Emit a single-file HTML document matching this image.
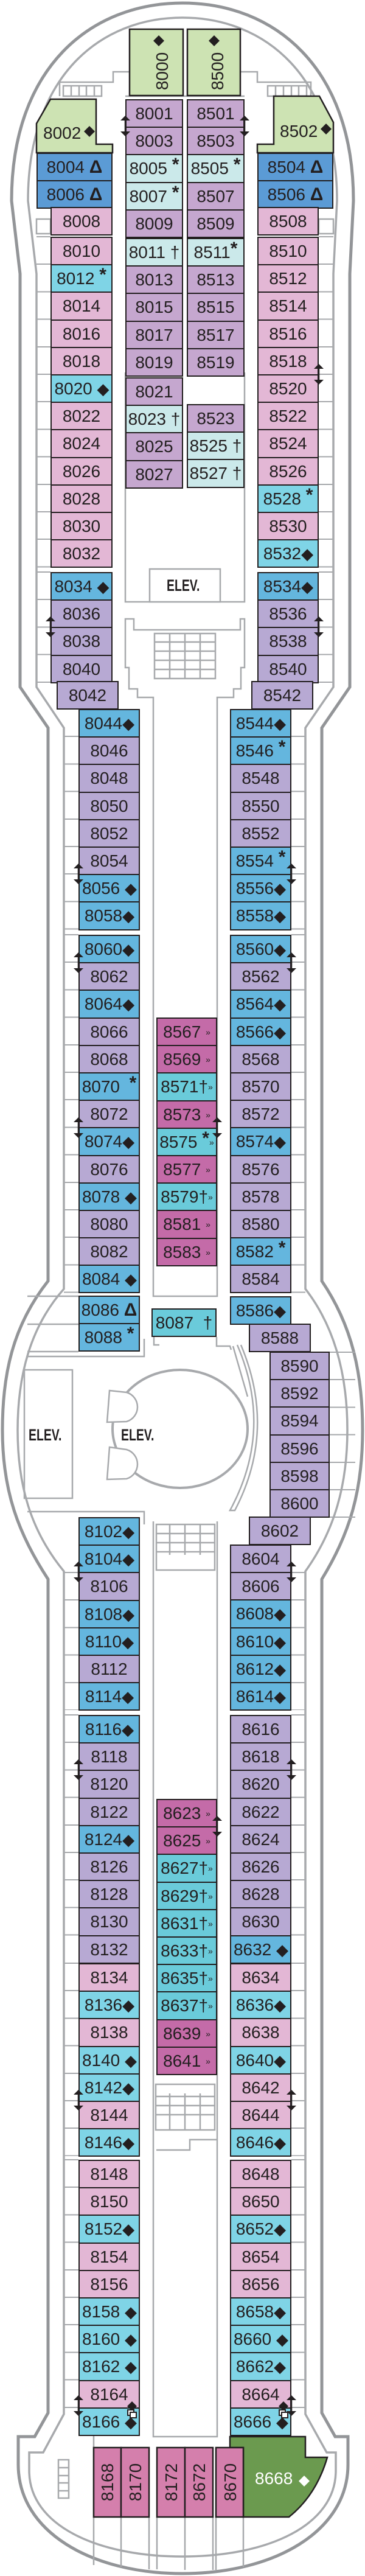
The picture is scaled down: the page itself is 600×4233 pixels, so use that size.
<!DOCTYPE html>
<html><head><meta charset="utf-8"><style>
body{margin:0;width:600px;height:4233px;position:relative;background:#fff;overflow:hidden;font-family:"Liberation Sans",sans-serif;color:#231f20}
svg{position:absolute;left:0;top:0}
.k{position:absolute;z-index:2}
.k div{height:47.2px;margin-bottom:-2px;border:2px solid #231f20;box-sizing:border-box;text-align:center;line-height:43px;font-size:28px;white-space:nowrap}
.k div b{font-family:"DejaVu Sans",sans-serif;font-weight:normal;font-size:26px;line-height:0;letter-spacing:-1px}
.k div i{font-style:normal;font-weight:bold;font-size:30px}
.k div u{text-decoration:none;font-weight:bold;font-size:30px;vertical-align:6px;line-height:0}
.k div s{text-decoration:none;font-size:14px;vertical-align:4px}
.pk{background:#e3b7d5}.pu{background:#c5a7cf}.lp{background:#b7a9d3}.bl{background:#5b9bd5}
.lc{background:#cbe9ea}.cy{background:#7fd4e6}.mb{background:#64b6de}.tq{background:#6acbda}.mg{background:#c46ba8}
.st{position:absolute;z-index:1;background:repeating-linear-gradient(#a7a9ac 0 2px,transparent 2px 45.2px)}
.el{position:absolute;z-index:2;font-weight:bold;font-size:27px;transform:scaleX(.72);transform-origin:0 0;letter-spacing:0}
</style></head><body>
<svg width="600" height="4233" style="z-index:0">
<g fill="none" stroke="#939598" stroke-width="5">
<path d="M33 1129 L33 450 L19 330 C19 110 150 5 300 5 C450 5 581 110 581 330 L575 450 L575 1129 L529 1196 L529 2105 C580 2180 596 2260 596 2350 C596 2450 575 2520 529 2595 L529 3965 L551 4004 L572 4004 L572 4050 C572 4160 450 4229 300 4229 C150 4229 30 4160 30 4050 L30 4004 L57 4004 L79 3965 L79 2595 C30 2520 4 2450 4 2350 C4 2260 20 2180 79 2105 L79 1196 Z"/>
</g>
<g fill="none" stroke="#a7a9ac" stroke-width="3.5">
<path d="M60 1129 L60 450 L46 330 C46 125 165 29 300 29 C435 29 554 125 554 330 L548 450 L548 1129 L502 1196 L502 2118 C550 2180 571 2260 571 2350 C571 2440 550 2515 502 2582 L502 3967 L537 4030 L552 4030 L552 4060 C552 4150 440 4201 300 4201 C160 4201 48 4150 48 4060 L48 4030 L71 4030 L105 3967 L105 2582 C50 2515 29 2440 29 2350 C29 2260 50 2180 105 2118 L105 1196 Z"/>
</g>
<g fill="none" stroke="#a7a9ac" stroke-width="2.5">
<path d="M98 158 V135 H186 V118 H213"/><rect x="104" y="141" width="63" height="17"/><path d="M117 141V158M130 141V158M142 141V158M155 141V158"/>
<path d="M396 118 H423 V135 H511 V158"/><rect x="440" y="141" width="64" height="17"/><path d="M453 141V158M466 141V158M479 141V158M491 141V158"/>
<path d="M206 158 H402"/>
<rect x="60" y="360" width="23" height="24"/><rect x="524" y="360" width="24" height="24"/>
<path d="M206 612 V989 H402 V612"/>
<rect x="246" y="935" width="116" height="54" fill="#fff"/>
<path d="M206 1017 V1097 H212 V1132 H226 V1146 H252 V2130 H357 V1146 H384 V1132 H396 V1097 H402 V1017 H395 V1035 H220 V1017 Z"/>
<rect x="254" y="1041" width="100" height="74"/><path d="M254 1055H354M254 1070H354M254 1085H354M254 1100H354M279 1041V1115M304 1041V1115M329 1041V1115"/>
<path d="M45 2229 H237 V2200 M45 2484 H237 V2505"/>
<rect x="40" y="2251" width="79" height="211"/>
<ellipse cx="296" cy="2348" rx="111" ry="97" stroke-width="4"/>
<path d="M180 2285 L208 2288 A25 25 0 0 1 208 2336 L176 2337 Z M180 2378 L208 2382 A25 25 0 0 1 208 2430 L176 2431 Z" fill="#fff"/>
<path d="M253 2197 V2210 H262 M356 2197 V2212 H378 L380 2218"/>
<path d="M383 2212 L407 2295 M390 2210 Q450 2350 378 2482 L386 2482 Q455 2350 396 2210"/>
<path d="M252 2500 V4004 H357 V2500"/>
<rect x="257" y="2505" width="96" height="75"/><path d="M257 2520H353M257 2535H353M257 2550H353M279 2505V2555M304 2505V2555M329 2505V2555"/>
<rect x="256" y="3425" width="97" height="75"/><path d="M256 3445H353M256 3460H353M256 3475H353M279 3440V3500M304 3440V3500M329 3440V3500"/>
<path d="M257 3533 H312 V3516 H357"/>
<rect x="96" y="4042" width="17" height="63"/><path d="M96 4055H113M96 4068H113M96 4080H113M96 4093H113"/>
<path d="M154 3999 V4215 M199 4136 V4218 M245 4136 V4222 M258 4136 V4222 M304 4136 V4223 M350 4136 V4223 M355 4136 V4223 M400 4136 V4218"/>
<path d="M45 2130 H129 M45 2176 H129 M45 2221 H129"/>
</g>
</svg>
<div class="st" style="left:60px;top:388px;width:23px;height:545px"></div>
<div class="st" style="left:60px;top:939px;width:23px;height:183px"></div>
<div class="st" style="left:524px;top:388px;width:24px;height:545px"></div>
<div class="st" style="left:524px;top:939px;width:24px;height:183px"></div>
<div class="st" style="left:105px;top:1164px;width:24px;height:366px"></div>
<div class="st" style="left:105px;top:1535px;width:24px;height:590px"></div>
<div class="st" style="left:479px;top:1164px;width:23px;height:366px"></div>
<div class="st" style="left:479px;top:1535px;width:23px;height:590px"></div>
<div class="st" style="left:542px;top:2221px;width:42px;height:275px"></div>
<div class="st" style="left:105px;top:2583px;width:24px;height:227px"></div>
<div class="st" style="left:105px;top:2817px;width:24px;height:405px"></div>
<div class="st" style="left:105px;top:3225px;width:24px;height:318px"></div>
<div class="st" style="left:105px;top:3548px;width:24px;height:452px"></div>
<div class="st" style="left:479px;top:2583px;width:23px;height:227px"></div>
<div class="st" style="left:479px;top:2817px;width:23px;height:405px"></div>
<div class="st" style="left:479px;top:3225px;width:23px;height:318px"></div>
<div class="st" style="left:479px;top:3548px;width:23px;height:452px"></div>

<div class="k" style="left:206px;top:163px;width:95px"><div class="pu">8001</div><div class="pu">8003</div><div class="lc">8005 <u>*</u></div><div class="lc">8007 <u>*</u></div><div class="pu">8009</div></div>
<div class="k" style="left:307px;top:163px;width:95px"><div class="pu">8501</div><div class="pu">8503</div><div class="lc">8505 <u>*</u></div><div class="pu">8507</div><div class="pu">8509</div></div>
<div class="k" style="left:206px;top:391px;width:95px"><div class="lc">8011 †</div><div class="pu">8013</div><div class="pu">8015</div><div class="pu">8017</div><div class="pu">8019</div></div>
<div class="k" style="left:307px;top:391px;width:95px"><div class="lc">8511<u>*</u></div><div class="pu">8513</div><div class="pu">8515</div><div class="pu">8517</div><div class="pu">8519</div></div>
<div class="k" style="left:206px;top:620px;width:95px"><div class="pu">8021</div><div class="lc">8023 †</div><div class="pu">8025</div><div class="pu">8027</div></div>
<div class="k" style="left:307px;top:664px;width:95px"><div class="pu">8523</div><div class="lc">8525 †</div><div class="lc">8527 †</div></div>

<div class="k" style="left:60px;top:251px;width:125px"><div class="bl">8004 <i>Δ</i></div><div class="bl">8006 <i>Δ</i></div></div>
<div class="k" style="left:423px;top:251px;width:125px"><div class="bl">8504 <i>Δ</i></div><div class="bl">8506 <i>Δ</i></div></div>
<div class="k" style="left:83px;top:340px;width:102px"><div class="pk">8008</div></div>
<div class="k" style="left:423px;top:340px;width:101px"><div class="pk">8508</div></div>
<div class="k" style="left:83px;top:389px;width:102px"><div class="pk">8010</div><div class="cy">8012 <u>*</u></div><div class="pk">8014</div><div class="pk">8016</div><div class="pk">8018</div><div class="cy">8020 <b>◆</b></div><div class="pk">8022</div><div class="pk">8024</div><div class="pk">8026</div><div class="pk">8028</div><div class="pk">8030</div><div class="pk">8032</div></div>
<div class="k" style="left:423px;top:389px;width:101px"><div class="pk">8510</div><div class="pk">8512</div><div class="pk">8514</div><div class="pk">8516</div><div class="pk">8518</div><div class="pk">8520</div><div class="pk">8522</div><div class="pk">8524</div><div class="pk">8526</div><div class="cy">8528 <u>*</u></div><div class="pk">8530</div><div class="cy">8532<b>◆</b></div></div>
<div class="k" style="left:83px;top:940px;width:102px"><div class="mb">8034 <b>◆</b></div><div class="lp">8036</div><div class="lp">8038</div><div class="lp">8040</div></div>
<div class="k" style="left:423px;top:940px;width:101px"><div class="mb">8534<b>◆</b></div><div class="lp">8536</div><div class="lp">8538</div><div class="lp">8540</div></div>
<div class="k" style="left:93px;top:1119px;width:102px"><div class="lp">8042</div></div>
<div class="k" style="left:413px;top:1119px;width:102px"><div class="lp">8542</div></div>

<div class="k" style="left:129px;top:1165px;width:101px"><div class="mb">8044<b>◆</b></div><div class="lp">8046</div><div class="lp">8048</div><div class="lp">8050</div><div class="lp">8052</div><div class="lp">8054</div><div class="mb">8056 <b>◆</b></div><div class="mb">8058<b>◆</b></div></div>
<div class="k" style="left:378px;top:1165px;width:101px"><div class="mb">8544<b>◆</b></div><div class="mb">8546 <u>*</u></div><div class="lp">8548</div><div class="lp">8550</div><div class="lp">8552</div><div class="mb">8554 <u>*</u></div><div class="mb">8556<b>◆</b></div><div class="mb">8558<b>◆</b></div></div>
<div class="k" style="left:129px;top:1536px;width:101px"><div class="mb">8060<b>◆</b></div><div class="lp">8062</div><div class="mb">8064<b>◆</b></div><div class="lp">8066</div><div class="lp">8068</div><div class="mb">8070 &nbsp;<u>*</u></div><div class="lp">8072</div><div class="mb">8074<b>◆</b></div><div class="lp">8076</div><div class="mb">8078 <b>◆</b></div><div class="lp">8080</div><div class="lp">8082</div><div class="mb">8084 <b>◆</b></div></div>
<div class="k" style="left:378px;top:1536px;width:101px"><div class="mb">8560<b>◆</b></div><div class="lp">8562</div><div class="mb">8564<b>◆</b></div><div class="mb">8566<b>◆</b></div><div class="lp">8568</div><div class="lp">8570</div><div class="lp">8572</div><div class="mb">8574<b>◆</b></div><div class="lp">8576</div><div class="lp">8578</div><div class="lp">8580</div><div class="mb">8582 <u>*</u></div><div class="lp">8584</div></div>
<div class="k" style="left:257px;top:1672px;width:100px"><div class="mg">8567 <s>»</s></div><div class="mg">8569 <s>»</s></div><div class="tq">8571†<s>»</s></div><div class="mg">8573 <s>»</s></div><div class="tq">8575 <u>*</u><s>»</s></div><div class="mg">8577 <s>»</s></div><div class="tq">8579†<s>»</s></div><div class="mg">8581 <s>»</s></div><div class="mg">8583 <s>»</s></div></div>

<div class="k" style="left:129px;top:2129px;width:101px"><div class="mb">8086 <i>Δ</i></div><div class="mb">8088 <u>*</u></div></div>
<div class="k" style="left:249px;top:2150px;width:107px"><div class="tq">8087 &nbsp;†</div></div>
<div class="k" style="left:378px;top:2130px;width:101px"><div class="mb">8586<b>◆</b></div></div>
<div class="k" style="left:409px;top:2175px;width:102px"><div class="lp">8588</div></div>
<div class="k" style="left:443px;top:2221px;width:99px"><div class="lp">8590</div><div class="lp">8592</div><div class="lp">8594</div><div class="lp">8596</div><div class="lp">8598</div><div class="lp">8600</div></div>
<div class="k" style="left:409px;top:2492px;width:102px"><div class="lp">8602</div></div>

<div class="k" style="left:129px;top:2493px;width:101px"><div class="mb">8102<b>◆</b></div><div class="mb">8104<b>◆</b></div><div class="lp">8106</div><div class="mb">8108<b>◆</b></div><div class="mb">8110<b>◆</b></div><div class="lp">8112</div><div class="mb">8114<b>◆</b></div></div>
<div class="k" style="left:378px;top:2538px;width:101px"><div class="lp">8604</div><div class="lp">8606</div><div class="mb">8608<b>◆</b></div><div class="mb">8610<b>◆</b></div><div class="mb">8612<b>◆</b></div><div class="mb">8614<b>◆</b></div></div>
<div class="k" style="left:129px;top:2818px;width:101px"><div class="mb">8116<b>◆</b></div><div class="lp">8118</div><div class="lp">8120</div><div class="lp">8122</div><div class="mb">8124<b>◆</b></div><div class="lp">8126</div><div class="lp">8128</div><div class="lp">8130</div><div class="lp">8132</div></div>
<div class="k" style="left:378px;top:2818px;width:101px"><div class="lp">8616</div><div class="lp">8618</div><div class="lp">8620</div><div class="lp">8622</div><div class="lp">8624</div><div class="lp">8626</div><div class="lp">8628</div><div class="lp">8630</div><div class="mb">8632 <b>◆</b></div></div>
<div class="k" style="left:257px;top:2956px;width:100px"><div class="mg">8623 <s>»</s></div><div class="mg">8625 <s>»</s></div><div class="tq">8627†<s>»</s></div><div class="tq">8629†<s>»</s></div><div class="tq">8631†<s>»</s></div><div class="tq">8633†<s>»</s></div><div class="tq">8635†<s>»</s></div><div class="tq">8637†<s>»</s></div><div class="mg">8639 <s>»</s></div><div class="mg">8641 <s>»</s></div></div>
<div class="k" style="left:129px;top:3226px;width:101px"><div class="pk">8134</div><div class="cy">8136<b>◆</b></div><div class="pk">8138</div><div class="cy">8140 <b>◆</b></div><div class="cy">8142<b>◆</b></div><div class="pk">8144</div><div class="cy">8146<b>◆</b></div></div>
<div class="k" style="left:378px;top:3226px;width:101px"><div class="pk">8634</div><div class="cy">8636<b>◆</b></div><div class="pk">8638</div><div class="cy">8640<b>◆</b></div><div class="pk">8642</div><div class="pk">8644</div><div class="cy">8646<b>◆</b></div></div>
<div class="k" style="left:129px;top:3549px;width:101px"><div class="pk">8148</div><div class="pk">8150</div><div class="cy">8152<b>◆</b></div><div class="pk">8154</div><div class="pk">8156</div><div class="cy">8158 <b>◆</b></div><div class="cy">8160 <b>◆</b></div><div class="cy">8162 <b>◆</b></div><div class="pk">8164</div><div class="cy">8166 <b>◆</b></div></div>
<div class="k" style="left:378px;top:3549px;width:101px"><div class="pk">8648</div><div class="pk">8650</div><div class="cy">8652<b>◆</b></div><div class="pk">8654</div><div class="pk">8656</div><div class="cy">8658<b>◆</b></div><div class="cy">8660 <b>◆</b></div><div class="cy">8662<b>◆</b></div><div class="pk">8664</div><div class="cy">8666 <b>◆</b></div></div>

<div class="el" style="left:274px;top:947px">ELEV.</div>
<div class="el" style="left:47px;top:2343px">ELEV.</div>
<div class="el" style="left:199px;top:2343px">ELEV.</div>

<svg width="600" height="4233" style="z-index:3" font-family="Liberation Sans, sans-serif" fill="#231f20">
<g stroke="#231f20" stroke-width="2.5">
<rect x="213" y="48" width="88" height="109" fill="#cde3b3"/>
<rect x="308" y="48" width="87" height="109" fill="#cde3b3"/>
<path d="M60 203 L83 163 L158 163 L158 237 L185 237 L185 251 L60 251 Z" fill="#cde3b3"/>
<path d="M423 251 L423 237 L450 237 L450 158 L525 158 L548 201 L548 251 Z" fill="#cde3b3"/>
<path d="M378 4004 L502 4004 L502 4038 L538 4038 Q520 4100 475 4136 L400 4136 L400 4022 L378 4022 Z" fill="#6b9a4f"/>
<g fill="#d47fac"><rect x="154" y="4022" width="45" height="114"/><rect x="199" y="4022" width="46" height="114"/><rect x="258" y="4022" width="46" height="114"/><rect x="304" y="4022" width="46" height="114"/><rect x="355" y="4022" width="45" height="114"/></g>
</g>
<g font-size="28" text-anchor="middle">
<text transform="translate(266 117) rotate(-90)" dy="10">8000</text>
<text transform="translate(357 117) rotate(-90)" dy="10">8500</text>
<text transform="translate(176 4079) rotate(-90)" dy="10">8168</text>
<text transform="translate(222 4079) rotate(-90)" dy="10">8170</text>
<text transform="translate(281 4079) rotate(-90)" dy="10">8172</text>
<text transform="translate(327 4079) rotate(-90)" dy="10">8672</text>
<text transform="translate(378 4079) rotate(-90)" dy="10">8670</text>
</g>
<text x="71" y="228" font-size="28">8002</text>
<text x="460" y="225" font-size="28">8502</text>
<text x="419" y="4082" font-size="28" fill="#fff">8668</text>
<g>
<path d="M261 58 l9 9 -9 9 -9 -9z M352 58 l9 9 -9 9 -9 -9z M147 207 l9 9 -9 9 -9 -9z M536 203 l9 9 -9 9 -9 -9z"/>
<path d="M500 4068 l9 9 -9 9 -9 -9z" fill="#fff"/>
<path d="M217 3946 l8 8 -8 8 -8 -8z M466 3946 l8 8 -8 8 -8 -8z"/>
<rect x="210" y="3960" width="10" height="9" fill="#fff" stroke="#231f20" stroke-width="2"/><rect x="214" y="3964" width="10" height="9" fill="#fff" stroke="#231f20" stroke-width="2"/>
<rect x="459" y="3960" width="10" height="9" fill="#fff" stroke="#231f20" stroke-width="2"/><rect x="463" y="3964" width="10" height="9" fill="#fff" stroke="#231f20" stroke-width="2"/>
</g>
<g stroke="#231f20" stroke-width="2.5">
<path d="M206 194 V220 M402 194 V220 M524 602 V628 M83 1017 V1043 M524 1017 V1043 M129 1423 V1449 M479 1423 V1449 M129 1569 V1595 M479 1569 V1595 M129 1840 V1866 M357 1840 V1866 M129 2570 V2596 M479 2570 V2596 M129 2895 V2921 M479 2895 V2921 M357 2988 V3014 M129 3438 V3464 M479 3438 V3464 M129 3940 V3966 M479 3940 V3966"/>
</g>
<g stroke="none">
<path d="M206 190 l-8 8 h16z M206 224 l-8 -8 h16z M402 190 l-8 8 h16z M402 224 l-8 -8 h16z M524 598 l-8 8 h16z M524 632 l-8 -8 h16z M83 1013 l-8 8 h16z M83 1047 l-8 -8 h16z M524 1013 l-8 8 h16z M524 1047 l-8 -8 h16z M129 1419 l-8 8 h16z M129 1453 l-8 -8 h16z M479 1419 l-8 8 h16z M479 1453 l-8 -8 h16z M129 1565 l-8 8 h16z M129 1599 l-8 -8 h16z M479 1565 l-8 8 h16z M479 1599 l-8 -8 h16z M129 1836 l-8 8 h16z M129 1870 l-8 -8 h16z M357 1836 l-8 8 h16z M357 1870 l-8 -8 h16z M129 2566 l-8 8 h16z M129 2600 l-8 -8 h16z M479 2566 l-8 8 h16z M479 2600 l-8 -8 h16z M129 2891 l-8 8 h16z M129 2925 l-8 -8 h16z M479 2891 l-8 8 h16z M479 2925 l-8 -8 h16z M357 2984 l-8 8 h16z M357 3018 l-8 -8 h16z M129 3434 l-8 8 h16z M129 3468 l-8 -8 h16z M479 3434 l-8 8 h16z M479 3468 l-8 -8 h16z M129 3936 l-8 8 h16z M129 3970 l-8 -8 h16z M479 3936 l-8 8 h16z M479 3970 l-8 -8 h16z"/>
</g>
</svg>
</body></html>
